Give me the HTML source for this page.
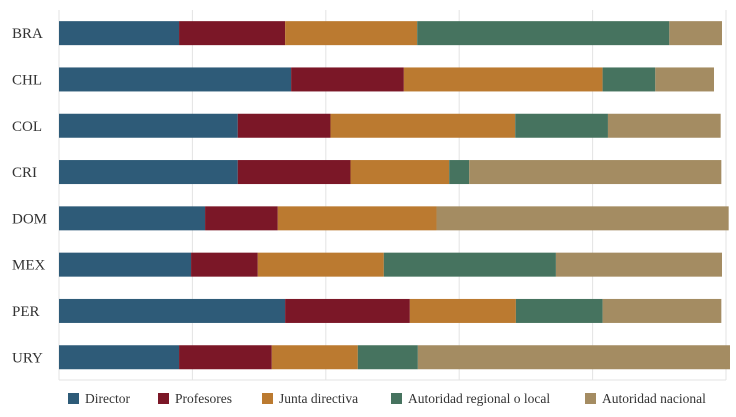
<!DOCTYPE html>
<html><head><meta charset="utf-8"><style>
body{margin:0;background:#fff;font-family:"Liberation Serif",serif;}
svg text{font-family:"Liberation Serif",serif;fill:#333;}
</style></head><body>
<svg id="c" width="736" height="412"></svg>
<script>
const categories=["BRA","CHL","COL","CRI","DOM","MEX","PER","URY"];
const seriesNames=["Director","Profesores","Junta directiva","Autoridad regional o local","Autoridad nacional"];
const director=[18.0,34.8,26.8,26.8,21.9,19.8,33.9,18.0];
const profesores=[15.9,16.9,13.9,16.9,10.9,10.0,18.7,13.9];
const junta=[19.8,29.8,27.7,14.8,23.8,18.9,15.9,12.9];
const regional=[37.8,7.9,13.9,3.0,0,25.8,13.0,9.0];
const nacional=[7.9,8.8,16.9,37.8,43.8,24.9,17.8,46.8];
const ticks=[0,20,40,60,80,100];
const colors=["#2e5b78","#7b1727","#bb7a30","#46735f","#a48c62"];
const series=[director,profesores,junta,regional,nacional];
const svg=document.getElementById('c');const NS="http://www.w3.org/2000/svg";
const x0=59,x1=726,top0=10,rowH=46.3,barH=24;
const xs=v=>x0+v/100*(x1-x0);
const yc=i=>top0+rowH*i+rowH/2;
function mk(t,a){const e=document.createElementNS(NS,t);for(const k in a)e.setAttribute(k,a[k]);svg.appendChild(e);return e;}
ticks.forEach(t=>{const g=mk('line',{x1:xs(t),x2:xs(t),y1:top0,y2:380,stroke:'#e3e3e3','stroke-width':1});

});
const ax=mk('line',{x1:x0,x2:x1,y1:380,y2:380,stroke:'#e3e3e3'});


categories.forEach((c,i)=>{
 const t=mk('text',{x:12,y:yc(i)+5,'font-size':15});t.textContent=c;
 
 
 let cum=0;
 series.forEach((s,j)=>{const v=s[i];if(v>0){const r=mk('rect',{x:xs(cum),y:yc(i)-barH/2,width:xs(cum+v)-xs(cum),height:barH,fill:colors[j]});
 
 }cum+=v;});
});
const lx=[68,158,262,391,585];
seriesNames.forEach((n,j)=>{
 const r=mk('rect',{x:lx[j],y:393,width:11,height:11,fill:colors[j]});
 
 
 const t=mk('text',{x:lx[j]+17,y:403,'font-size':13.5});t.textContent=n;
 
 
});
</script>
</body></html>
